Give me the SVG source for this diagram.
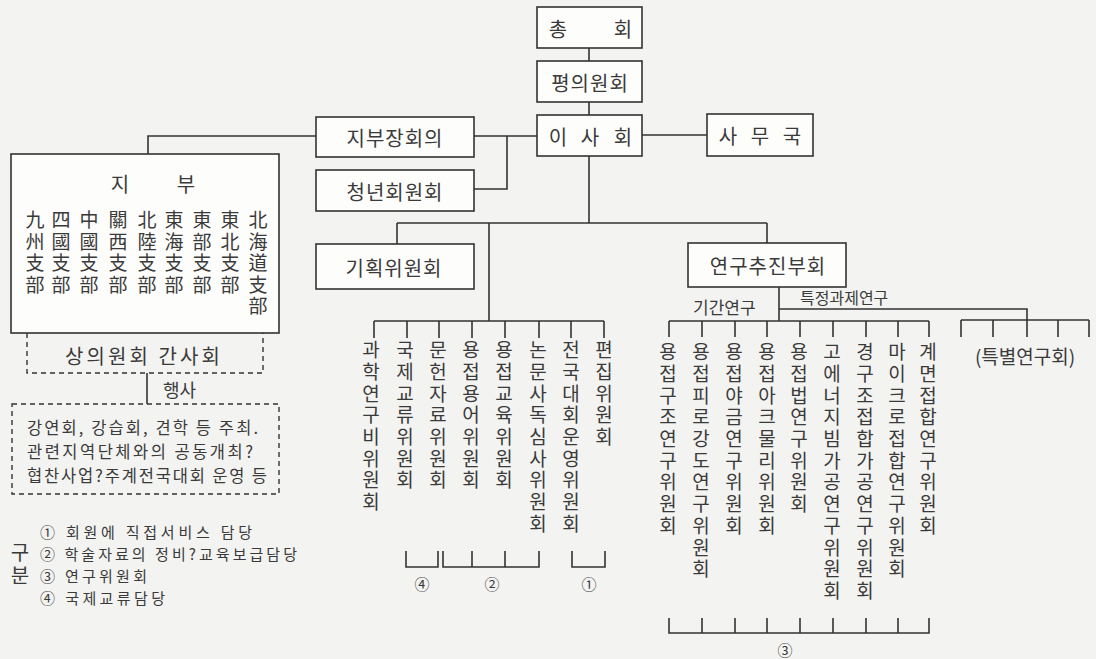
<svg xmlns="http://www.w3.org/2000/svg" width="1096" height="659" viewBox="0 0 1096 659">
<style>
text{font-family:"Noto Sans CJK KR","Noto Sans",sans-serif;fill:#3a3a3a;}
.box{fill:#fdfdfc;stroke:#333;stroke-width:1.6;}
.dash{fill:none;stroke:#333;stroke-width:1.4;stroke-dasharray:5 4;}
.ln{fill:none;stroke:#333;stroke-width:1.6;}
.t{font-size:20px;text-anchor:middle;dominant-baseline:central;}
.v{font-size:19px;writing-mode:vertical-rl;letter-spacing:2.7px;}
.h{font-size:19px;writing-mode:vertical-rl;letter-spacing:2.5px;}
.s{font-size:16.5px;dominant-baseline:central;}
.lg{font-size:15px;dominant-baseline:central;}
.n{font-size:15px;text-anchor:middle;dominant-baseline:central;}
</style>
<rect x="0" y="0" width="1096" height="659" fill="#f3f3f1"/>
<g id="connectors">
<path class="ln" d="M589 48V61M589 102V115M474 136H537M507 136V189H474M642 135H707M316 136H148V154"/>
<path class="ln" d="M589 156V223M397 223H767M397 223V244M767 223V243M489 223V321"/>
<path class="ln" d="M374 321H604M374 321V338M407 321V338M439 321V338M472 321V338M505 321V338M539 321V338M571 321V338M604 321V338"/>
<path class="ln" d="M406 551V567H438V551M443 551V567H539V551M472 551V567M505 551V567M572 551V567H605V551"/>
<path class="ln" d="M779 287V321M669 321H929M669 321V337M702 321V337M735 321V337M767 321V337M800 321V337M833 321V337M866 321V337M898 321V337M929 321V337"/>
<path class="ln" d="M779 309H1027V320M961 320H1089M961 320V337M993 320V337M1027 320V337M1058 320V337M1089 320V337"/>
<path class="ln" d="M669 618V633H929V618M702 618V633M735 618V633M767 618V633M800 618V633M833 618V633M866 618V633M898 618V633"/>
<path class="ln" d="M147 373V404"/>
</g>
<g id="chonghoe"><rect class="box" x="537" y="7" width="105" height="41"/><text class="t" x="558" y="28">총</text><text class="t" x="623" y="28">회</text></g>
<g id="pyeonguiwonhoe"><rect class="box" x="537" y="61" width="105" height="41"/><text class="t" x="590" y="82" letter-spacing="1">평의원회</text></g>
<g id="isahoe"><rect class="box" x="537" y="115" width="105" height="41"/><text class="t" x="558" y="136">이</text><text class="t" x="590" y="136">사</text><text class="t" x="623" y="136">회</text></g>
<g id="jibujanghoeui"><rect class="box" x="316" y="117" width="158" height="40"/><text class="t" x="395" y="137" letter-spacing="1">지부장회의</text></g>
<g id="cheongnyeon"><rect class="box" x="316" y="170" width="158" height="41"/><text class="t" x="395" y="191" letter-spacing="1">청년회원회</text></g>
<g id="samuguk"><rect class="box" x="707" y="114" width="106" height="42"/><text class="t" x="728" y="135">사</text><text class="t" x="760" y="135">무</text><text class="t" x="792" y="135">국</text></g>
<g id="gihoek"><rect class="box" x="316" y="244" width="158" height="45"/><text class="t" x="394" y="267" letter-spacing="1">기획위원회</text></g>
<g id="yeongu"><rect class="box" x="688" y="243" width="158" height="44"/><text class="t" x="768" y="265" letter-spacing="1">연구추진부회</text></g>
<g id="jibu">
<rect class="box" x="11" y="154" width="268" height="179"/>
<text class="t" x="120" y="183">지</text><text class="t" x="186" y="183">부</text>
<text class="h" x="35" y="210.5">九州支部</text>
<text class="h" x="61" y="210.5">四國支部</text>
<text class="h" x="89" y="210.5">中國支部</text>
<text class="h" x="118" y="210.5">關西支部</text>
<text class="h" x="147" y="210.5">北陸支部</text>
<text class="h" x="174" y="210.5">東海支部</text>
<text class="h" x="202" y="210.5">東部支部</text>
<text class="h" x="230" y="210.5">東北支部</text>
<text class="h" x="258" y="210.5">北海道支部</text>
</g>
<g id="sanguiwonhoe">
<path class="dash" d="M27 333V373H263V333"/>
<text class="s" x="65" y="355" textLength="155" lengthAdjust="spacing" style="font-size:20px">상의원회 간사회</text>
</g>
<text class="s" x="163" y="389" style="font-size:18px">행사</text>
<g id="haengsa">
<rect class="dash" x="12" y="404" width="267" height="90"/>
<text class="s" x="27" y="427" textLength="231" lengthAdjust="spacing">강연회, 강습회, 견학 등 주최.</text>
<text class="s" x="27" y="451" textLength="226" lengthAdjust="spacing">관련지역단체와의 공동개최?</text>
<text class="s" x="27" y="475" textLength="240" lengthAdjust="spacing">협찬사업?주계전국대회 운영 등</text>
</g>
<g id="legend">
<text x="20" y="542" style="font-size:20px;writing-mode:vertical-rl;letter-spacing:3px">구분</text>
<text class="lg" x="40" y="531" textLength="212" lengthAdjust="spacing">① 회원에 직접서비스 담당</text>
<text class="lg" x="40" y="553" textLength="257" lengthAdjust="spacing">② 학술자료의 정비?교육보급담당</text>
<text class="lg" x="40" y="575" textLength="107" lengthAdjust="spacing">③ 연구위원회</text>
<text class="lg" x="40" y="597" textLength="125" lengthAdjust="spacing">④ 국제교류담당</text>
</g>
<g id="committees">
<text class="v" x="371" y="340.5">과학연구비위원회</text>
<text class="v" x="405" y="340.5">국제교류위원회</text>
<text class="v" x="438" y="340.5">문헌자료위원회</text>
<text class="v" x="471" y="340.5">용접용어위원회</text>
<text class="v" x="504" y="340.5">용접교육위원회</text>
<text class="v" x="538" y="340.5">논문사독심사위원회</text>
<text class="v" x="571" y="340.5">전국대회운영위원회</text>
<text class="v" x="604" y="340.5">편집위원회</text>
<text class="n" x="422" y="583">④</text>
<text class="n" x="492" y="583">②</text>
<text class="n" x="589" y="583">①</text>
</g>
<g id="research">
<text class="s" x="693" y="306" style="font-size:17px">기간연구</text>
<text class="s" x="800" y="297" style="font-size:16px">특정과제연구</text>
<text class="v" x="668" y="342.5">용접구조연구위원회</text>
<text class="v" x="701" y="342.5">용접피로강도연구위원회</text>
<text class="v" x="734" y="342.5">용접야금연구위원회</text>
<text class="v" x="767" y="342.5">용접아크물리위원회</text>
<text class="v" x="799" y="342.5">용접법연구위원회</text>
<text class="v" x="832" y="342.5">고에너지빔가공연구위원회</text>
<text class="v" x="865" y="342.5">경구조접합가공연구위원회</text>
<text class="v" x="897" y="342.5">마이크로접합연구위원회</text>
<text class="v" x="928" y="342.5">계면접합연구위원회</text>
<text class="n" x="785" y="649">③</text>
</g>
<g id="teukbyeol"><text class="t" x="1025" y="355" style="font-size:19px">(특별연구회)</text></g>
</svg>
